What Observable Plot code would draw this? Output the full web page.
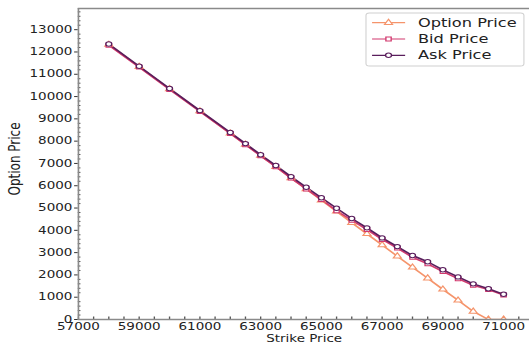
<!DOCTYPE html>
<html>
<head>
<meta charset="utf-8">
<script src="https://cdn.jsdelivr.net/npm/d3@7"></script>
<script src="https://cdn.jsdelivr.net/npm/@observablehq/plot@0.6"></script>
<style>
  html, body { margin: 0; padding: 0; background: #fff; overflow: hidden; }
  #wrap { position: absolute; left: 0; top: 0; transform-origin: 0 0; transform: scaleX(1.35); }
</style>
</head>
<body>
<div id="wrap"></div>
<script>
// ---- data ----
const strikes = [58000, 59000, 60000, 61000, 62000, 62500, 63000, 63500, 64000, 64500, 65000, 65500,
                 66000, 66500, 67000, 67500, 68000, 68500, 69000, 69500, 70000, 70500, 71000];
const optionPrice = [12330, 11340, 10340, 9350, 8350, 7850, 7350, 6850, 6350, 5850, 5350, 4850,
                     4340, 3840, 3340, 2840, 2340, 1850, 1350, 860, 360, 0, 0];
const bidPrice = [12300, 11320, 10320, 9330, 8340, 7840, 7340, 6850, 6340, 5850, 5380, 4880,
                  4450, 4030, 3590, 3200, 2790, 2500, 2150, 1830, 1530, 1340, 1100];
const askPrice = [12360, 11360, 10360, 9370, 8390, 7890, 7390, 6910, 6410, 5930, 5460, 4990,
                  4530, 4110, 3660, 3270, 2870, 2590, 2230, 1910, 1600, 1380, 1130];
const seriesNames = ["Option Price", "Bid Price", "Ask Price"];
const seriesColors = ["#f5946b", "#d2396e", "#5a1e5c"];
const seriesSymbols = ["triangle", "square", "circle"];
const xLabels = [57000, 59000, 61000, 63000, 65000, 67000, 69000, 71000];
const yLabels = [0, 1000, 2000, 3000, 4000, 5000, 6000, 7000, 8000, 9000, 10000, 11000, 12000, 13000];
const xDomain = [57000, 71865];
const yDomain = [0, 13950];

const valuesBySeries = [optionPrice, bidPrice, askPrice];
const rows = [];
seriesNames.forEach((name, i) => {
  strikes.forEach((k, j) => rows.push({series: name, strike: k, price: valuesBySeries[i][j]}));
});

const xMinor = d3.range(xDomain[0], xDomain[1], 500);
const yMinor = d3.range(yDomain[0], yDomain[1], 200).filter(v => v % 1000 !== 0);
const spine = "#8a8a8a";

const W = 392, H = 350;
const chart = Plot.plot({
  width: W, height: H,
  marginLeft: 57.6, marginRight: 0, marginTop: 8, marginBottom: 31,
  style: {fontFamily: "DejaVu Sans", fontSize: "10px", color: "#222", background: "white"},
  x: {domain: xDomain},
  y: {domain: yDomain},
  color: {domain: seriesNames, range: seriesColors},
  symbol: {domain: seriesNames, range: seriesSymbols},
  marks: [
    Plot.axisY({ticks: yLabels, tickSize: 2.7, tickPadding: 1.8, tickFormat: d => String(d), label: null, stroke: "#333"}),
    Plot.axisY({ticks: yMinor, tickSize: -2, tickFormat: () => "", label: null, stroke: "#555"}),
    Plot.axisX({ticks: xLabels, tickSize: 0, tickPadding: 3, tickFormat: d => String(d), label: null}),
    Plot.axisX({ticks: xMinor, tickSize: -2.5, tickFormat: () => "", label: null, stroke: "#555"}),
    Plot.line(rows, {x: "strike", y: "price", z: "series", stroke: "series", strokeWidth: 1.5, clip: true}),
    Plot.dot(rows, {x: "strike", y: "price", symbol: "series", stroke: "series", fill: "white", r: 2.2, strokeWidth: 1, clip: true}),
    Plot.ruleX([xDomain[0]], {stroke: spine, strokeWidth: 1.2}),
    Plot.ruleY([yDomain[0]], {stroke: spine, strokeWidth: 1.6}),
    Plot.ruleY([yDomain[1]], {stroke: spine, strokeWidth: 1.6}),
    Plot.text(["Strike Price"], {frameAnchor: "bottom", lineAnchor: "middle", textAnchor: "middle", dy: 19.5, fontSize: 10, fill: "#222"}),
    Plot.text(["Option Price"], {frameAnchor: "left", textAnchor: "middle", lineAnchor: "middle", rotate: -90, dx: -47, dy: -5, fontSize: 12, fill: "#222"})
  ]
});
document.getElementById("wrap").appendChild(chart);

// legend (drawn into the same SVG, upper right)
const svg = d3.select(chart);
const lg = svg.append("g").attr("font-family", "DejaVu Sans").attr("font-size", 12).attr("text-anchor", "start");
const bx = 271.1, by = 13, bw = 117, bh = 53;
lg.append("rect").attr("x", bx).attr("y", by).attr("width", bw).attr("height", bh)
  .attr("rx", 2.5).attr("fill", "white").attr("fill-opacity", 0.85)
  .attr("stroke", "#d0d0d0").attr("stroke-width", 0.8);
const rowsY = [22.7, 39, 55.3];
seriesNames.forEach((name, i) => {
  const y = rowsY[i];
  lg.append("line").attr("x1", bx + 4.5).attr("x2", bx + 29).attr("y1", y).attr("y2", y)
    .attr("stroke", seriesColors[i]).attr("stroke-width", 1.2);
  const sym = d3.symbol().type([d3.symbolTriangle, d3.symbolSquare, d3.symbolCircle][i]).size(2.2 * 2.2 * Math.PI);
  lg.append("path").attr("d", sym()).attr("transform", `translate(${bx + 16.7},${y})`)
    .attr("fill", "white").attr("stroke", seriesColors[i]).attr("stroke-width", 1);
  lg.append("text").attr("x", bx + 38.5).attr("y", y).attr("dy", "0.35em").attr("fill", "#222").text(name);
});
</script>
</body>
</html>
